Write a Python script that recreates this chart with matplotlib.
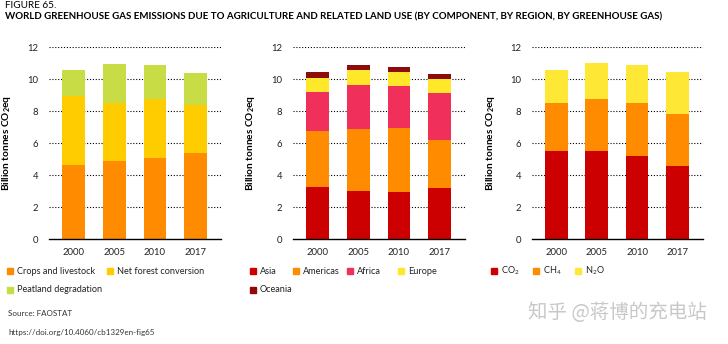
import matplotlib
matplotlib.use("Agg")
import matplotlib.pyplot as plt
from matplotlib.patches import Rectangle
import numpy as np

plt.rcParams['font.family'] = ['Lato', 'DejaVu Sans']
plt.rcParams['mathtext.fontset'] = 'custom'
plt.rcParams['mathtext.rm'] = 'Lato'
plt.rcParams['mathtext.bf'] = 'Lato:bold'

years = ['2000', '2005', '2010', '2017']

# billion tonnes CO2eq, by component
crops_livestock = [4.67, 4.92, 5.10, 5.42]
net_forest = [4.29, 3.60, 3.67, 2.96]
peatland = [1.62, 2.46, 2.15, 2.04]

# by region
asia = [3.29, 3.04, 2.96, 3.21]
americas = [3.50, 3.86, 4.02, 3.02]
africa = [2.44, 2.75, 2.60, 2.94]
europe = [0.87, 0.93, 0.88, 0.85]
oceania = [0.38, 0.34, 0.33, 0.33]

# by greenhouse gas
co2 = [5.54, 5.54, 5.23, 4.56]
ch4 = [2.95, 3.22, 3.26, 3.30]
n2o = [2.09, 2.26, 2.41, 2.60]

ORANGE = '#FF8C00'
RED = '#CC0000'

panels = [
    [('Crops and livestock', crops_livestock, ORANGE),
     ('Net forest conversion', net_forest, '#FFCC00'),
     ('Peatland degradation', peatland, '#C8DC45')],
    [('Asia', asia, RED),
     ('Americas', americas, ORANGE),
     ('Africa', africa, '#F0305A'),
     ('Europe', europe, '#FFE82A'),
     ('Oceania', oceania, '#8E0B0B')],
    [('CO$_2$', co2, RED),
     ('CH$_4$', ch4, ORANGE),
     ('N$_2$O', n2o, '#FFE835')],
]

# legend square centres in pixels (x, y)
legend_pos = [
    [(10, 271), (110, 271), (10, 290)],
    [(253, 271), (296, 271), (350, 271), (401, 271), (253, 290)],
    [(494, 271), (536, 271), (578, 271)],
]

W, H = 728, 344
fig = plt.figure(figsize=(W / 100, H / 100), dpi=100)
fig.patch.set_facecolor('white')

ax_lefts = [49.3, 293.3, 532.3]
ax_widths = [171.7, 171.7, 170.4]
bottom, top = 239.3, 47.3

x = np.arange(len(years))
for left, width, series, lpos in zip(ax_lefts, ax_widths, panels, legend_pos):
    ax = fig.add_axes([left / W, 1 - bottom / H, width / W, (bottom - top) / H])
    base = np.zeros(len(years))
    for name, vals, color in series:
        ax.bar(x, vals, bottom=base, width=0.56, color=color, zorder=3)
        base += np.array(vals)
    ax.set_xlim(-0.59, 3.62)
    ax.set_ylim(0, 12)
    ax.set_yticks(range(0, 13, 2))
    ax.set_xticks(x)
    ax.set_xticklabels(years)
    for g in range(2, 13, 2):
        ax.axhline(g, color='black', lw=0.8, ls=(0, (1, 1.6)), zorder=1)
    for s in ['top', 'right', 'left']:
        ax.spines[s].set_visible(False)
    ax.spines['bottom'].set_linewidth(1.0)
    ax.spines['bottom'].set_zorder(4)
    ax.tick_params(axis='both', length=0, labelsize=6.8, colors='#222222')
    ax.tick_params(axis='y', pad=8)
    ax.tick_params(axis='x', pad=6)
    ax.set_ylabel(r'Billion tonnes CO$_\mathbf{2}$eq', fontsize=7.3,
                  fontweight='bold')
    ax.yaxis.set_label_coords(-0.21, 0.5)

    for (name, vals, color), (px, py) in zip(series, lpos):
        fig.patches.append(Rectangle(((px - 3) / W, 1 - (py + 3) / H),
                                     6 / W, 6 / H, color=color,
                                     transform=fig.transFigure, figure=fig))
        fig.text((px + 7) / W, 1 - py / H, name, fontsize=6.6,
                 va='center', ha='left', color='#222222')

fig.text(5 / W, 1 - 6 / H, 'FIGURE 65.', fontsize=7.2, va='center')
fig.text(5 / W, 1 - 16.5 / H,
         'WORLD GREENHOUSE GAS EMISSIONS DUE TO AGRICULTURE AND RELATED LAND USE '
         '(BY COMPONENT, BY REGION, BY GREENHOUSE GAS)',
         fontsize=7.0, fontweight='bold', va='center')

fig.text(8 / W, 1 - 314 / H, 'Source: FAOSTAT', fontsize=5.8, va='center',
         color='#333333')
fig.text(8 / W, 1 - 333 / H, 'https://doi.org/10.4060/cb1329en-fig65',
         fontsize=5.8, va='center', color='#333333')

fig.text(707 / W, 1 - 312 / H, '知乎 @蒋博的充电站', fontsize=14, va='center',
         ha='right', color='#C8C8C8',
         family=['Noto Sans CJK SC', 'DejaVu Sans'])

fig.savefig('out.png', dpi=100)
